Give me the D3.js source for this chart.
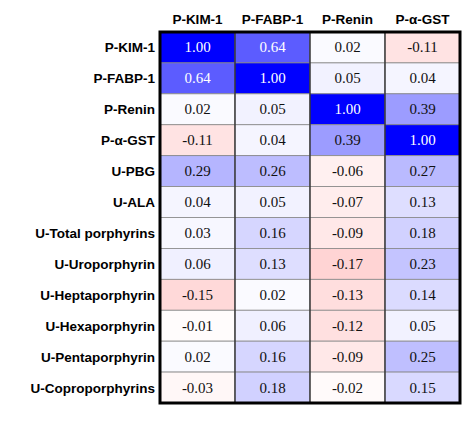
<!DOCTYPE html>
<html><head><meta charset="utf-8">
<script src="https://cdn.jsdelivr.net/npm/d3@7"></script>
<style>body{margin:0;background:#fff}</style>
</head><body><div id="chart"></div>
<script>
var cols = ["P-KIM-1", "P-FABP-1", "P-Renin", "P-α-GST"];
var rows = ["P-KIM-1", "P-FABP-1", "P-Renin", "P-α-GST", "U-PBG", "U-ALA",
  "U-Total porphyrins", "U-Uroporphyrin", "U-Heptaporphyrin", "U-Hexaporphyrin",
  "U-Pentaporphyrin", "U-Coproporphyrins"];
var values = [
  [1.00, 0.64, 0.02, -0.11],
  [0.64, 1.00, 0.05, 0.04],
  [0.02, 0.05, 1.00, 0.39],
  [-0.11, 0.04, 0.39, 1.00],
  [0.29, 0.26, -0.06, 0.27],
  [0.04, 0.05, -0.07, 0.13],
  [0.03, 0.16, -0.09, 0.18],
  [0.06, 0.13, -0.17, 0.23],
  [-0.15, 0.02, -0.13, 0.14],
  [-0.01, 0.06, -0.12, 0.05],
  [0.02, 0.16, -0.09, 0.25],
  [-0.03, 0.18, -0.02, 0.15]
];

var gridLeft = 160, gridTop = 32, gridW = 300, gridH = 371;
var svg = d3.select("#chart").append("svg").attr("width", 474).attr("height", 422);
var x = d3.scaleBand().domain(cols).range([gridLeft, gridLeft + gridW]);
var y = d3.scaleBand().domain(rows).range([gridTop, gridTop + gridH]);
var color = d3.scaleLinear().domain([-1, 0, 1]).range(["#ff0000", "#ffffff", "#0000ff"]);

var cells = [];
values.forEach(function (r, i) { r.forEach(function (v, j) { cells.push({r: rows[i], c: cols[j], v: v}); }); });

svg.selectAll("rect.cell").data(cells).enter().append("rect").attr("class", "cell")
  .attr("x", function (d) { return x(d.c); }).attr("y", function (d) { return y(d.r); })
  .attr("width", x.bandwidth()).attr("height", y.bandwidth())
  .attr("fill", function (d) { return color(d.v); })
  .attr("stroke", "#888").attr("stroke-width", 0.8);

svg.selectAll("text.val").data(cells).enter().append("text").attr("class", "val")
  .attr("x", function (d) { return x(d.c) + x.bandwidth() / 2; })
  .attr("y", function (d) { return y(d.r) + y.bandwidth() / 2 + 5; })
  .attr("text-anchor", "middle").attr("font-family", "Liberation Serif, Times New Roman, serif")
  .attr("font-size", 15).attr("fill", function (d) { return d.v > 0.5 ? "#fff" : "#111"; })
  .text(function (d) { return d.v.toFixed(2); });

// column separators
svg.selectAll("line.sep").data(cols.slice(1)).enter().append("line")
  .attr("x1", function (d) { return x(d); }).attr("x2", function (d) { return x(d); })
  .attr("y1", gridTop).attr("y2", gridTop + gridH).attr("stroke", "#222").attr("stroke-width", 1.2);

svg.append("rect").attr("x", gridLeft).attr("y", gridTop).attr("width", gridW).attr("height", gridH)
  .attr("fill", "none").attr("stroke", "#000").attr("stroke-width", 3);

svg.selectAll("text.col").data(cols).enter().append("text")
  .attr("x", function (d) { return x(d) + x.bandwidth() / 2; }).attr("y", 24)
  .attr("text-anchor", "middle").attr("font-family", "Liberation Sans, Arial, sans-serif")
  .attr("font-weight", "bold").attr("font-size", 13.5).text(function (d) { return d; });

svg.selectAll("text.row").data(rows).enter().append("text")
  .attr("x", gridLeft - 5).attr("y", function (d) { return y(d) + y.bandwidth() / 2 + 5; })
  .attr("text-anchor", "end").attr("font-family", "Liberation Sans, Arial, sans-serif")
  .attr("font-weight", "bold").attr("font-size", 13.5).text(function (d) { return d; });
</script></body></html>
